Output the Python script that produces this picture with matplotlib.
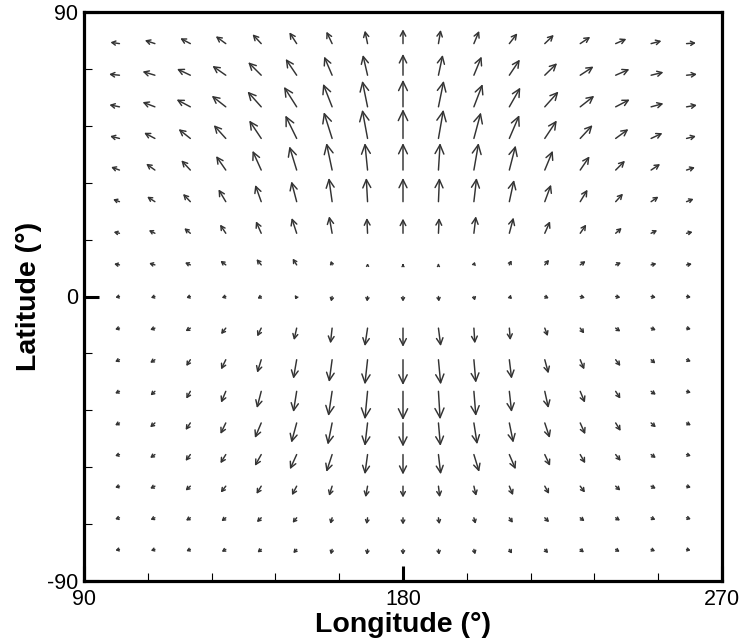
import numpy as np
import matplotlib
matplotlib.use("Agg")
import matplotlib.pyplot as plt
from matplotlib.ticker import MultipleLocator

# grid
lons = [100, 110, 120, 130, 140, 150, 160, 170, 180, 190, 200, 210, 220, 230, 240, 250, 260]
lats = [80, 70, 60, 50, 40, 30, 20, 10, 0, -10, -20, -30, -40, -50, -60, -70, -80]

# eastward component (arbitrary units), rows = lats, cols = lons
u_rows = [
    [-9.0, -10.0, -10.0, -10.0, -8.7, -7.3, -5.7, -2.7, 0.0, 2.3, 5.3, 8.0, 9.0, 10.0, 10.7, 10.3, 9.3],
    [-10.3, -12.3, -13.3, -13.3, -13.0, -11.0, -8.0, -4.7, 0.0, 4.3, 7.7, 10.5, 12.3, 13.3, 13.7, 12.3, 10.3],
    [-10.0, -12.3, -13.7, -14.0, -13.7, -12.7, -9.0, -5.3, 0.0, 5.3, 8.7, 11.0, 13.7, 14.0, 14.0, 12.3, 10.3],
    [-9.3, -10.7, -11.7, -12.0, -12.0, -11.3, -8.3, -5.3, 0.0, 5.0, 7.0, 10.0, 12.0, 12.3, 12.7, 11.3, 9.3],
    [-8.3, -8.7, -9.0, -9.7, -8.7, -7.3, -5.7, -2.7, 0.0, 1.7, 4.7, 6.3, 8.0, 9.3, 9.3, 9.0, 8.3],
    [-6.3, -7.7, -7.3, -7.3, -6.0, -5.3, -3.3, -1.3, 0.0, 1.0, 2.7, 4.7, 6.3, 7.3, 7.3, 7.3, 7.0],
    [-5.7, -6.0, -6.0, -5.7, -5.3, -5.0, -3.0, -0.7, 0.0, 0.7, 2.0, 4.2, 5.3, 6.0, 6.0, 6.0, 6.0],
    [-5.3, -5.7, -5.3, -5.3, -4.7, -4.0, -1.3, 0.0, 0.0, 0.0, 1.0, 2.2, 4.3, 5.3, 5.3, 5.3, 5.3],
    [-4.0, -4.0, -4.0, -4.0, -3.7, -1.5, -1.0, -0.5, 0.0, 0.5, 1.0, 2.7, 4.0, 4.7, 4.7, 4.7, 4.3],
    [-4.3, -4.7, -4.7, -4.7, -4.0, -2.7, -1.7, -2.7, 0.0, 2.3, 1.0, 1.0, 3.0, 4.0, 4.7, 4.7, 4.3],
    [-4.3, -4.7, -4.0, -4.7, -4.0, -3.3, -3.0, -2.7, 0.0, 2.3, 2.0, 2.3, 3.7, 4.0, 4.7, 4.3, 4.3],
    [-4.3, -4.3, -4.0, -4.7, -4.3, -3.3, -3.7, -2.7, 0.0, 1.7, 2.0, 2.3, 3.7, 4.7, 4.7, 4.7, 4.3],
    [-4.3, -4.7, -4.7, -5.3, -6.3, -5.3, -4.3, -2.7, 0.0, 2.0, 3.3, 4.0, 5.0, 5.0, 5.0, 4.7, 4.3],
    [-4.3, -4.7, -4.7, -5.3, -6.3, -6.7, -5.7, -2.7, 0.0, 2.3, 5.3, 6.3, 5.3, 5.0, 5.0, 4.7, 4.3],
    [-4.3, -4.7, -4.7, -5.0, -4.7, -4.7, -3.0, -2.0, 0.0, 1.3, 2.3, 3.7, 4.3, 4.7, 4.7, 4.7, 4.3],
    [-4.3, -4.3, -4.3, -4.3, -4.3, -4.0, -1.7, -1.0, 0.0, 1.0, 1.7, 3.5, 4.3, 4.3, 4.3, 4.3, 4.3],
    [-4.0, -4.0, -4.0, -4.0, -3.7, -3.3, -1.3, -0.7, 0.0, 0.7, 1.3, 2.7, 3.3, 3.7, 4.0, 4.0, 4.0],
]

# northward component (arbitrary units)
v_rows = [
    [1.3, 3.3, 5.3, 7.3, 9.3, 11.3, 12.0, 13.0, 14.3, 13.7, 12.7, 10.3, 8.7, 6.7, 4.7, 2.7, 0.7],
    [1.0, 3.7, 6.3, 9.3, 13.0, 16.3, 18.7, 20.3, 21.3, 20.3, 18.7, 15.7, 12.0, 8.7, 6.0, 3.0, 1.0],
    [2.0, 4.7, 7.3, 11.0, 15.3, 20.0, 23.0, 26.0, 27.0, 26.0, 22.7, 19.3, 15.3, 11.0, 7.3, 3.3, 1.7],
    [2.3, 5.7, 9.3, 13.3, 18.0, 23.0, 26.3, 28.7, 29.3, 28.7, 26.0, 23.3, 18.0, 13.3, 9.3, 5.3, 2.3],
    [3.0, 6.3, 9.7, 14.0, 19.3, 23.7, 27.0, 27.0, 27.0, 27.0, 27.0, 24.5, 19.3, 13.7, 9.3, 6.0, 2.7],
    [2.3, 5.0, 7.7, 12.3, 16.7, 20.3, 23.7, 23.7, 23.7, 23.7, 23.7, 21.7, 17.0, 12.0, 8.0, 5.0, 2.7],
    [1.3, 3.0, 5.0, 8.7, 12.0, 15.3, 17.0, 15.3, 14.7, 15.3, 17.0, 15.7, 12.0, 8.7, 5.3, 3.0, 1.3],
    [1.0, 1.7, 2.3, 4.0, 5.7, 6.3, 4.0, 1.0, 0.5, 0.7, 3.0, 4.5, 5.0, 3.7, 2.3, 1.3, 1.0],
    [-1.0, -1.3, -1.3, -1.3, -2.0, -3.0, -5.0, -5.0, -5.0, -5.0, -4.0, -2.5, -1.7, -1.3, -1.0, -1.0, -0.7],
    [-1.3, -1.7, -3.0, -6.0, -8.3, -12.0, -15.3, -18.0, -18.7, -18.0, -15.3, -12.0, -8.0, -5.3, -3.3, -2.0, -1.0],
    [-2.0, -3.0, -6.3, -9.7, -13.0, -19.0, -22.3, -24.7, -25.3, -24.7, -23.0, -19.0, -13.7, -9.7, -6.3, -3.7, -1.7],
    [-2.0, -4.0, -7.3, -11.3, -16.7, -20.7, -24.7, -28.0, -28.7, -28.0, -24.7, -20.7, -16.7, -11.3, -7.3, -3.3, -1.3],
    [-2.3, -4.3, -7.0, -11.0, -15.0, -19.7, -21.7, -23.0, -23.7, -23.0, -21.3, -19.7, -15.0, -11.3, -8.0, -4.3, -2.3],
    [-1.3, -3.3, -6.3, -8.7, -11.3, -14.7, -17.3, -19.7, -20.0, -19.7, -17.3, -14.7, -11.3, -8.7, -6.3, -3.3, -1.3],
    [-1.3, -2.3, -4.3, -6.3, -7.7, -9.0, -9.7, -11.0, -11.3, -11.0, -9.7, -9.0, -7.7, -6.3, -4.3, -2.3, -1.3],
    [-1.3, -2.0, -2.7, -3.3, -4.3, -5.0, -6.0, -6.3, -6.7, -6.3, -6.0, -5.0, -4.3, -3.3, -2.7, -2.0, -1.3],
    [-1.0, -1.3, -1.7, -2.3, -3.0, -3.7, -5.0, -5.3, -5.3, -5.3, -5.0, -4.2, -3.7, -3.0, -2.3, -1.7, -1.0],
]

x_ticks = [90, 180, 270]
y_ticks = [-90, 0, 90]

plt.rcParams['font.family'] = ['Liberation Sans', 'DejaVu Sans']
plt.rcParams['axes.unicode_minus'] = False

DPI = 100
fig = plt.figure(figsize=(7.45, 6.43), dpi=DPI)
ax = fig.add_axes([84 / 745, 1 - 581 / 643, (722 - 84) / 745, (581 - 12) / 643])
ax.set_xlim(90, 270)
ax.set_ylim(-90, 90)

# one data unit = one pixel of arrow length
px2pt = 72.0 / DPI
arrow_color = '#333333'
for i, lat in enumerate(lats):
    for j, lon in enumerate(lons):
        du = u_rows[i][j]
        dv = v_rows[i][j]
        L = np.hypot(du, dv)
        if L < 0.3:
            continue
        hl = (0.30 * L + 1.0) * px2pt
        hw = (0.13 * L + 0.9) * px2pt
        ax.annotate('', xy=(lon, lat), xycoords='data',
                    xytext=(du * px2pt, dv * px2pt), textcoords='offset points',
                    arrowprops=dict(arrowstyle=f'<-,head_length={hl:.3f},head_width={hw:.3f}',
                                    mutation_scale=1, shrinkA=0, shrinkB=0,
                                    lw=1.05, color=arrow_color))

ax.set_xticks(x_ticks)
ax.set_yticks(y_ticks)
ax.xaxis.set_minor_locator(MultipleLocator(18))
ax.yaxis.set_minor_locator(MultipleLocator(18))
ax.tick_params(which='major', direction='in', length=11, width=2.2, labelsize=15.5, pad=6,
               top=False, right=False)
ax.tick_params(which='minor', direction='in', length=5.5, width=0.8, top=False, right=False)
ax.tick_params(axis='y', which='major', pad=4)
for sp in ax.spines.values():
    sp.set_linewidth(2.3)

ax.set_xlabel('Longitude (°)', fontsize=20.5, fontweight='bold', labelpad=1)
ax.set_ylabel('Latitude (°)', fontsize=20.5, fontweight='bold', labelpad=4)

fig.savefig('out.png', dpi=DPI)
